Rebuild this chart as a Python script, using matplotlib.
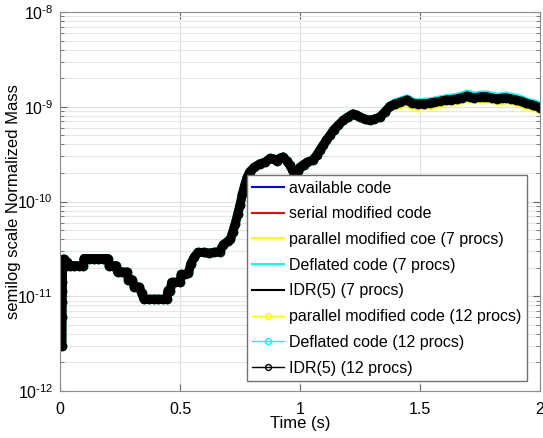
import matplotlib
matplotlib.use('Agg')
import matplotlib.pyplot as plt
import numpy as np
from matplotlib.ticker import LogLocator, FuncFormatter, NullFormatter, FixedLocator

plt.rcParams['font.family'] = ['Liberation Sans', 'DejaVu Sans']
plt.rcParams['mathtext.fontset'] = 'custom'
plt.rcParams['mathtext.rm'] = 'Liberation Sans'
plt.rcParams['mathtext.it'] = 'Liberation Sans:italic'
plt.rcParams['mathtext.bf'] = 'Liberation Sans:bold'

# simulation time (s) and normalized mass, common to all runs
time = [0.008, 0.0085, 0.009, 0.0095, 0.010, 0.011, 0.013, 0.016, 0.02, 0.03,
        0.04, 0.06, 0.08, 0.095, 0.1, 0.12, 0.14, 0.16, 0.18, 0.2,
        0.205, 0.22, 0.235, 0.24, 0.26, 0.28, 0.285, 0.30, 0.31, 0.33,
        0.34, 0.35, 0.37, 0.39, 0.41, 0.43, 0.445, 0.45, 0.46, 0.465,
        0.48, 0.5, 0.505, 0.52, 0.535, 0.545, 0.56, 0.575, 0.6, 0.62,
        0.64, 0.665, 0.68, 0.70, 0.71, 0.72, 0.73, 0.74, 0.75, 0.76,
        0.77, 0.78, 0.79, 0.81, 0.833, 0.855, 0.875, 0.89, 0.904, 0.915,
        0.929, 0.945, 0.958, 0.97, 0.979, 0.99, 1.0, 1.015, 1.03, 1.054,
        1.07, 1.083, 1.097, 1.11, 1.125, 1.14, 1.16, 1.18, 1.2, 1.22,
        1.235, 1.25, 1.27, 1.29, 1.31, 1.333, 1.355, 1.375,
        1.395, 1.417, 1.446, 1.467, 1.49, 1.515, 1.54, 1.56, 1.583, 1.61,
        1.63, 1.654, 1.675, 1.696, 1.71, 1.725, 1.75, 1.765, 1.78, 1.80,
        1.82, 1.84, 1.86, 1.88, 1.90, 1.92, 1.94, 1.97, 2.0]

mass_early = [3.0e-12, 6.0e-12, 8.8e-12, 1.15e-11, 1.4e-11, 2.45e-11, 2.0e-11, 2.45e-11, 2.1e-11, 2.3e-11,
              2.1e-11, 2.1e-11, 2.1e-11, 2.1e-11, 2.5e-11, 2.5e-11, 2.5e-11, 2.5e-11, 2.5e-11, 2.5e-11,
              2.1e-11, 2.1e-11, 2.1e-11, 1.8e-11, 1.8e-11, 1.8e-11, 1.5e-11, 1.5e-11, 1.25e-11, 1.25e-11,
              1.08e-11, 0.93e-11, 0.93e-11, 0.93e-11, 0.93e-11, 0.93e-11, 0.93e-11, 1.15e-11, 1.15e-11, 1.4e-11,
              1.4e-11, 1.4e-11, 1.7e-11, 1.7e-11, 1.75e-11, 2.2e-11, 2.6e-11, 2.9e-11, 2.9e-11, 2.85e-11,
              2.9e-11, 2.95e-11, 3.5e-11, 3.8e-11, 4.0e-11, 4.8e-11, 5.8e-11, 7.3e-11, 9.2e-11, 1.2e-10,
              1.5e-10, 1.8e-10, 2.05e-10, 2.3e-10, 2.5e-10, 2.6e-10, 2.85e-10, 2.8e-10, 2.7e-10, 2.85e-10,
              2.95e-10, 2.7e-10, 2.4e-10, 2.1e-10, 1.9e-10, 2.1e-10, 2.3e-10, 2.45e-10, 2.6e-10, 2.75e-10,
              3.1e-10, 3.5e-10, 3.95e-10, 4.45e-10, 5.0e-10, 5.7e-10, 6.4e-10, 7.2e-10, 7.8e-10, 8.4e-10,
              8.2e-10, 7.8e-10, 7.4e-10, 7.2e-10, 7.4e-10, 7.8e-10, 8.9e-10, 1.01e-9]

# late part (t >= 1.395) differs slightly between the solvers
mass_idr_late = [1.07e-9, 1.11e-9, 1.18e-9, 1.09e-9, 1.07e-9, 1.08e-9, 1.09e-9, 1.11e-9, 1.14e-9, 1.18e-9,
                 1.19e-9, 1.21e-9, 1.25e-9, 1.30e-9, 1.27e-9, 1.24e-9, 1.27e-9, 1.28e-9, 1.27e-9, 1.24e-9,
                 1.21e-9, 1.23e-9, 1.24e-9, 1.21e-9, 1.18e-9, 1.14e-9, 1.09e-9, 1.04e-9, 0.98e-9]
mass_deflated_late = [1.10e-9, 1.14e-9, 1.21e-9, 1.12e-9, 1.10e-9, 1.11e-9, 1.12e-9, 1.15e-9, 1.18e-9, 1.22e-9,
                      1.23e-9, 1.26e-9, 1.30e-9, 1.35e-9, 1.32e-9, 1.29e-9, 1.32e-9, 1.33e-9, 1.32e-9, 1.29e-9,
                      1.26e-9, 1.28e-9, 1.29e-9, 1.26e-9, 1.23e-9, 1.19e-9, 1.13e-9, 1.08e-9, 1.02e-9]
mass_parallel_late = [1.04e-9, 1.08e-9, 1.14e-9, 1.05e-9, 1.03e-9, 1.04e-9, 1.05e-9, 1.07e-9, 1.10e-9, 1.14e-9,
                      1.15e-9, 1.17e-9, 1.21e-9, 1.26e-9, 1.23e-9, 1.20e-9, 1.23e-9, 1.24e-9, 1.23e-9, 1.20e-9,
                      1.17e-9, 1.19e-9, 1.20e-9, 1.17e-9, 1.14e-9, 1.10e-9, 1.05e-9, 1.00e-9, 0.95e-9]

mass_idr = mass_early + mass_idr_late
mass_deflated = mass_early + mass_deflated_late
mass_parallel = mass_early + mass_parallel_late

YELLOW = (1, 1, 0)
CYAN = (0, 1, 1)

fig = plt.figure(figsize=(5.43, 4.38), dpi=100)
ax = fig.add_axes([0.1105, 0.1073, 0.884, 0.8653])

# serial runs and 7 procs runs (lines only)
ax.plot(time, mass_idr, color='b', lw=1.5, label='available code')
ax.plot(time, mass_idr, color='r', lw=1.5, label='serial modified code')
ax.plot(time, mass_parallel, color=YELLOW, lw=1.5, label='parallel modified coe (7 procs)')
ax.plot(time, mass_deflated, color=CYAN, lw=1.5, label='Deflated code (7 procs)')
ax.plot(time, mass_idr, color='k', lw=1.5, label='IDR(5) (7 procs)')

# 12 procs runs: dense circle markers form a thick band
for m, c, lab in [(mass_parallel, YELLOW, 'parallel modified code (12 procs)'),
                  (mass_deflated, CYAN, 'Deflated code (12 procs)'),
                  (mass_idr, 'k', 'IDR(5) (12 procs)')]:
    ax.plot(time, m, color=c, lw=6.5, solid_joinstyle='round', solid_capstyle='round')
    ax.plot(time, m, color=c, lw=1, marker='o', ms=6, mfc='none', mec=c, mew=1, label=lab)


def pow10_label(v, pos):
    e = int(round(np.log10(v)))
    return r'$\mathregular{10^{\text{-}%d}}$' % -e if e < 0 else r'$\mathregular{10^{%d}}$' % e


ax.set_yscale('log')
ax.set_xlim(0, 2)
ax.set_ylim(1e-12, 1e-8)
ax.xaxis.set_major_locator(FixedLocator([0, 0.5, 1, 1.5, 2]))
ax.set_xticklabels(['0', '0.5', '1', '1.5', '2'])
ax.yaxis.set_major_locator(LogLocator(base=10, numticks=10))
ax.yaxis.set_major_formatter(FuncFormatter(pow10_label))
ax.yaxis.set_minor_locator(LogLocator(base=10, subs=range(2, 10), numticks=20))
ax.yaxis.set_minor_formatter(NullFormatter())

ax.grid(True, which='major', color='0.88', lw=0.8)
ax.grid(True, which='minor', axis='y', color='0.9', lw=0.8)
ax.set_axisbelow(True)
ax.tick_params(which='both', direction='in', top=True, right=True, colors='0.4', labelcolor='k', labelsize=11.5)
ax.tick_params(which='major', length=5)
ax.tick_params(which='minor', length=3)
ax.tick_params(axis='x', pad=8)
ax.tick_params(axis='y', pad=5)
for s in ax.spines.values():
    s.set_color('0.55')

ax.set_xlabel('Time (s)', fontsize=12)
ax.xaxis.set_label_coords(0.5, -0.066)
ax.xaxis.label.set_va('top')
ax.set_ylabel('semilog scale Normalized Mass', fontsize=12)
ax.yaxis.set_label_coords(-0.082, 0.5)

leg = ax.legend(loc='lower right', bbox_to_anchor=(0.973, 0.026), fontsize=11.5, fancybox=False,
                framealpha=1, edgecolor='0.45', handlelength=2.0, handletextpad=0.3,
                labelspacing=0.67, borderpad=0.35, borderaxespad=0, markerscale=0.7)
leg.get_frame().set_linewidth(1)

fig.savefig('out.png', dpi=100)
